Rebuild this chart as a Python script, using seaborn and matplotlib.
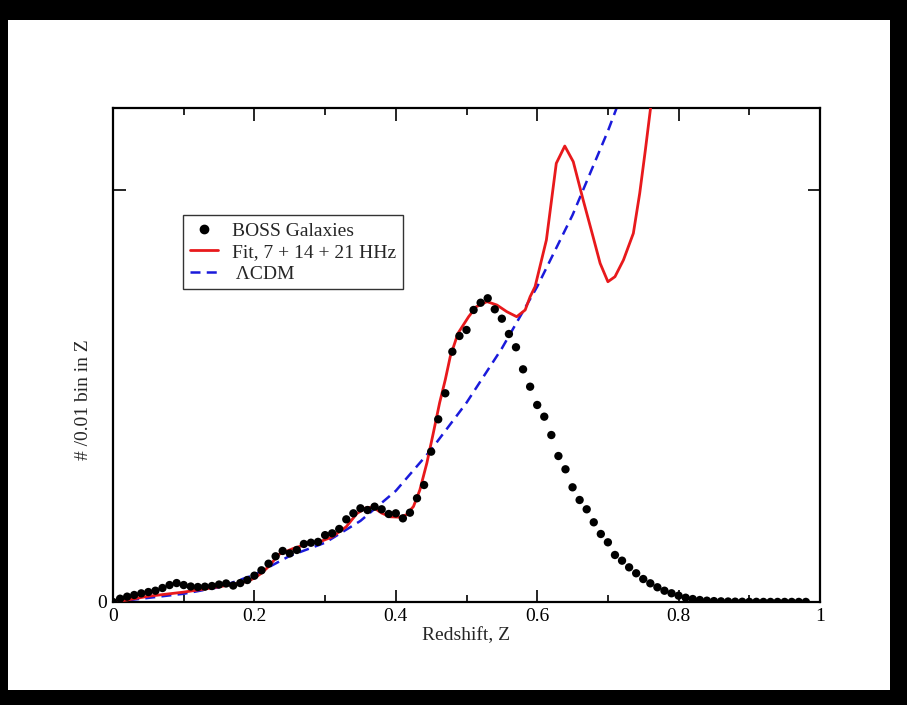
import numpy as np
import pandas as pd
import matplotlib
matplotlib.use('Agg')
import matplotlib.pyplot as plt
import seaborn as sns
from matplotlib.patches import Rectangle
from matplotlib.lines import Line2D

sns.set_theme(style='ticks')
plt.rcParams['font.family'] = ['Liberation Serif', 'DejaVu Serif']

# BOSS galaxy counts per 0.01 bin in redshift
z_boss = [0.00, 0.01, 0.02, 0.03, 0.04, 0.05, 0.06, 0.07, 0.08, 0.09,
          0.10, 0.11, 0.12, 0.13, 0.14, 0.15, 0.16, 0.17, 0.18, 0.19,
          0.20, 0.21, 0.22, 0.23, 0.24, 0.25, 0.26, 0.27, 0.28, 0.29,
          0.30, 0.31, 0.32, 0.33, 0.34, 0.35, 0.36, 0.37, 0.38, 0.39,
          0.40, 0.41, 0.42, 0.43, 0.44, 0.45, 0.46, 0.47, 0.48, 0.49,
          0.50, 0.51, 0.52, 0.53, 0.54, 0.55, 0.56, 0.57, 0.58, 0.59,
          0.60, 0.61, 0.62, 0.63, 0.64, 0.65, 0.66, 0.67, 0.68, 0.69,
          0.70, 0.71, 0.72, 0.73, 0.74, 0.75, 0.76, 0.77, 0.78, 0.79,
          0.80, 0.81, 0.82, 0.83, 0.84, 0.85, 0.86, 0.87, 0.88, 0.89,
          0.90, 0.91, 0.92, 0.93, 0.94, 0.95, 0.96, 0.97, 0.98]
n_boss = [0, 40, 65, 85, 105, 121, 137, 170, 206, 230,
          206, 188, 182, 186, 194, 212, 225, 200, 230, 267,
          320, 385, 465, 555, 620, 590, 632, 705, 720, 730,
          812, 834, 887, 1004, 1077, 1138, 1117, 1158, 1126, 1069,
          1077, 1016, 1085, 1260, 1421, 1826, 2219, 2535, 3040, 3231,
          3304, 3547, 3635, 3689, 3555, 3441, 3255, 3094, 2826, 2615,
          2393, 2251, 2028, 1773, 1612, 1393, 1239, 1126, 968, 826,
          725, 571, 502, 421, 349, 279, 227, 179, 137, 106,
          77, 52, 36, 24, 16, 11, 8, 6, 4, 3,
          2, 2, 1, 1, 1, 1, 1, 1, 1]

# fit, 7 + 14 + 21 HHz
z_fit = [0.0, 0.02, 0.05, 0.10, 0.15, 0.17, 0.19, 0.20, 0.21, 0.22,
         0.235, 0.255, 0.275, 0.295, 0.31, 0.33, 0.345, 0.358, 0.368, 0.38,
         0.392, 0.406, 0.415, 0.425, 0.434, 0.444, 0.453, 0.462, 0.47, 0.477,
         0.488, 0.503, 0.514, 0.529, 0.543, 0.557, 0.571, 0.583, 0.59, 0.597,
         0.613, 0.627, 0.639, 0.651, 0.665, 0.679, 0.689, 0.70, 0.71, 0.722,
         0.736, 0.745, 0.753, 0.76, 0.767]
n_fit = [0, 25, 70, 120, 185, 215, 250, 290, 350, 430,
         580, 650, 705, 740, 790, 915, 1075, 1145, 1150, 1080,
         1035, 1030, 1060, 1160, 1360, 1690, 2050, 2420, 2700, 2980,
         3264, 3465, 3587, 3648, 3607, 3526, 3465, 3547, 3708, 3830,
         4397, 5328, 5538, 5348, 4883, 4437, 4114, 3890, 3951, 4154,
         4478, 4964, 5490, 5976, 6500]

# Lambda-CDM expectation
z_lcdm = [0.0, 0.05, 0.10, 0.15, 0.20, 0.25, 0.30, 0.35, 0.40, 0.45,
          0.50, 0.55, 0.60, 0.65, 0.70, 0.73]
n_lcdm = [0, 50, 100, 180, 330, 560, 720, 985, 1350, 1850,
          2420, 3080, 3830, 4700, 5720, 6400]

boss = pd.DataFrame({'z': z_boss, 'n': n_boss})
fit = pd.DataFrame({'z': z_fit, 'n': n_fit})
lcdm = pd.DataFrame({'z': z_lcdm, 'n': n_lcdm})

fig = plt.figure(figsize=(9.07, 7.05), dpi=100)
fig.patch.set_facecolor('black')
# white page inside the black frame of the scan
fig.patches.append(Rectangle((8 / 907, 15 / 705), (890 - 8) / 907, (685 - 15) / 705,
                             transform=fig.transFigure, facecolor='white',
                             edgecolor='none', zorder=-5))
ax = fig.add_axes([113 / 907, 103 / 705, 707 / 907, 494 / 705])
ax.set_facecolor('white')

sns.lineplot(data=lcdm, x='z', y='n', ax=ax, color='#1a1adb', lw=1.8,
             dashes=False, linestyle=(0, (4, 2.5)), sort=False, zorder=2)
sns.lineplot(data=fit, x='z', y='n', ax=ax, color='#e8191c', lw=2.0,
             sort=False, zorder=3)
sns.scatterplot(data=boss, x='z', y='n', ax=ax, color='black', s=36,
                edgecolor='none', zorder=4)

ax.set_xlim(0, 1)
ax.set_ylim(0, 6000)
ax.set_xticks([0, 0.2, 0.4, 0.6, 0.8, 1.0])
ax.set_xticklabels(['0', '0.2', '0.4', '0.6', '0.8', '1'])
ax.set_xticks([0.1, 0.3, 0.5, 0.7, 0.9], minor=True)
ax.set_yticks([0, 5000])
ax.set_yticklabels(['0', ''])
ax.tick_params(which='both', direction='in', top=True, right=True,
               labelsize=14, colors='black', pad=4, width=1.2)
ax.tick_params(which='major', length=9)
ax.tick_params(which='minor', length=5)
for s in ax.spines.values():
    s.set_linewidth(1.6)
    s.set_color('black')

ax.set_xlabel('Redshift, Z', fontsize=14, labelpad=2)
ax.set_ylabel('# /0.01 bin in Z', fontsize=14)
ax.yaxis.set_label_coords(-0.03, 0.41)

handles = [
    Line2D([], [], marker='o', color='black', linestyle='none', markersize=6),
    Line2D([], [], color='#e8191c', lw=2.0),
    Line2D([], [], color='#1a1adb', lw=1.8, linestyle=(0, (4, 2.5))),
]
leg = ax.legend(handles, ['BOSS Galaxies', 'Fit, 7 + 14 + 21 HHz', ' ΛCDM'],
                loc='upper left', bbox_to_anchor=(0.099, 0.783), borderaxespad=0,
                fontsize=14, frameon=True, fancybox=False, handlelength=1.45,
                labelspacing=0.2, borderpad=0.35, handletextpad=0.7)
leg.get_frame().set_edgecolor('black')
leg.get_frame().set_linewidth(1.0)

fig.savefig('out.png', dpi=100, facecolor=fig.get_facecolor())
